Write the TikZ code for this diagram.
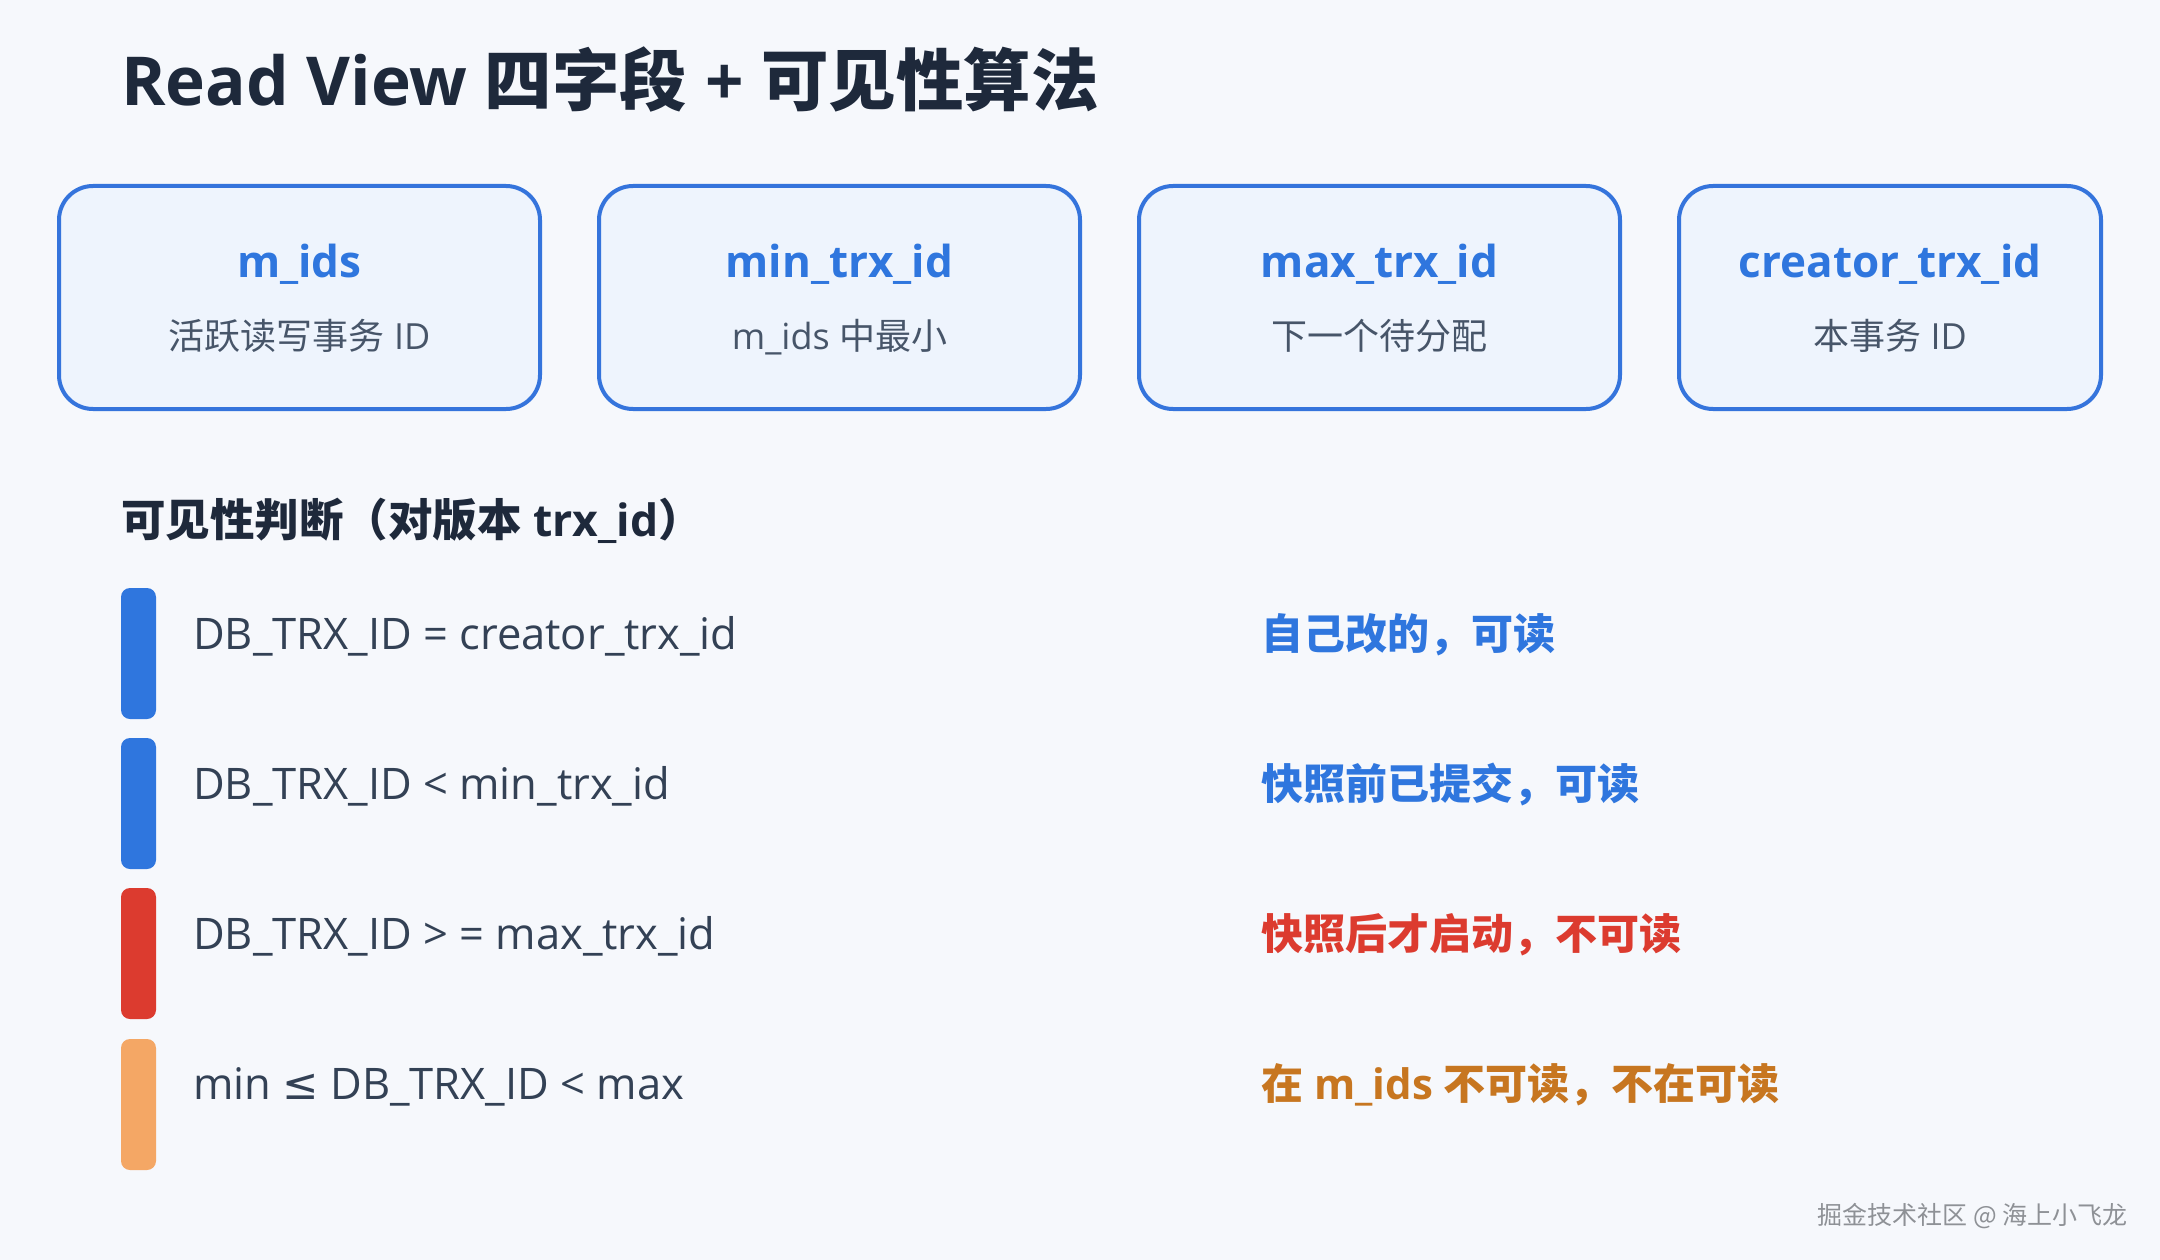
\documentclass[tikz,border=0pt]{standalone}
\usepackage{fontspec}
\setmainfont{Open Sans}
\newfontfamily\cjkf{Noto Sans CJK SC}
\newfontfamily\symf{DejaVu Sans}
\newcommand\zh[1]{{\cjkf #1}}
\definecolor{bgc}{HTML}{F6F8FC}
\definecolor{boxfill}{HTML}{EEF4FD}
\definecolor{boxline}{HTML}{3574DC}
\definecolor{titlec}{HTML}{1E293B}
\definecolor{subc}{HTML}{475569}
\definecolor{condc}{HTML}{334155}
\definecolor{blueC}{HTML}{2F76DE}
\definecolor{redC}{HTML}{DC3B2F}
\definecolor{orangeBar}{HTML}{F4A765}
\definecolor{orangeTxt}{HTML}{C77620}
\definecolor{wmc}{HTML}{8E9196}
\tikzset{
  fieldbox/.style={draw=boxline, line width=4pt, fill=boxfill, rounded corners=34pt, minimum height=223pt},
  fieldtitle/.style={anchor=base, text=blueC, font=\fontsize{44}{50}\selectfont\bfseries, inner sep=0pt},
  fieldsub/.style={anchor=base, text=subc, font=\fontsize{36}{42}\selectfont, inner sep=0pt},
  bar/.style={rounded corners=9pt, minimum width=35pt, minimum height=131pt, inner sep=0pt},
  cond/.style={anchor=base west, text=condc, font=\fontsize{43.5}{48}\selectfont, inner sep=0pt},
  result/.style={anchor=base west, font=\fontsize{42}{48}\selectfont\bfseries, inner sep=0pt},
}
\begin{document}
\begin{tikzpicture}[x=1pt,y=-1pt]
\fill[bgc] (0,0) rectangle (2160,1260);
\useasboundingbox (0,0) rectangle (2160,1260);

\node[anchor=base west, text=titlec, inner sep=0pt, font=\fontsize{67.5}{80}\selectfont\bfseries] (title) at (121,106)
  {Read View \zh{四字段} + \zh{可见性算法}};

\node[fieldbox, minimum width=481pt] (b1) at (299.5,297.5) {};
\node[fieldbox, minimum width=481pt] (b2) at (839.5,297.5) {};
\node[fieldbox, minimum width=481pt] (b3) at (1379.5,297.5) {};
\node[fieldbox, minimum width=422pt] (b4) at (1890,297.5) {};

\node[fieldtitle] (t1) at (299.5,277) {m\_ids};
\node[fieldtitle] (t2) at (839.5,277) {min\_trx\_id};
\node[fieldtitle] (t3) at (1379.5,277) {max\_trx\_id};
\node[fieldtitle] (t4) at (1890,277) {creator\_trx\_id};

\node[fieldsub] (s1) at (299.5,349) {\zh{活跃读写事务} ID};
\node[fieldsub] (s2) at (839.5,349) {m\_ids \zh{中最小}};
\node[fieldsub] (s3) at (1379.5,349) {\zh{下一个待分配}};
\node[fieldsub] (s4) at (1890,349) {\zh{本事务} ID};

\node[anchor=base west, text=titlec, inner sep=0pt, font=\fontsize{44.5}{50}\selectfont\bfseries] (sec) at (121,536)
  {\zh{可见性判断（对版本} trx\_id\zh{）}};

\node[bar, fill=blueC] (bar1) at (138.5,653.5) {};
\node[bar, fill=blueC] (bar2) at (138.5,803.5) {};
\node[bar, fill=redC] (bar3) at (138.5,953.5) {};
\node[bar, fill=orangeBar] (bar4) at (138.5,1104.5) {};

\node[cond] (c1) at (193,649) {DB\_TRX\_ID = creator\_trx\_id};
\node[cond] (c2) at (193,799) {DB\_TRX\_ID < min\_trx\_id};
\node[cond] (c3) at (193,949) {DB\_TRX\_ID > = max\_trx\_id};
\node[cond] (c4) at (193,1099) {min {\symf ≤} DB\_TRX\_ID < max};

\node[result, text=blueC] (r1) at (1261,649) {\zh{自己改的，可读}};
\node[result, text=blueC] (r2) at (1261,799) {\zh{快照前已提交，可读}};
\node[result, text=redC] (r3) at (1261,949) {\zh{快照后才启动，不可读}};
\node[result, text=orangeTxt] (r4) at (1261,1099) {\zh{在} m\_ids \zh{不可读，不在可读}};

\node[anchor=base east, text=wmc, inner sep=0pt, font=\fontsize{25}{30}\selectfont] (wm) at (2128,1224)
  {\zh{掘金技术社区 @ 海上小飞龙}};
\end{tikzpicture}
\end{document}
